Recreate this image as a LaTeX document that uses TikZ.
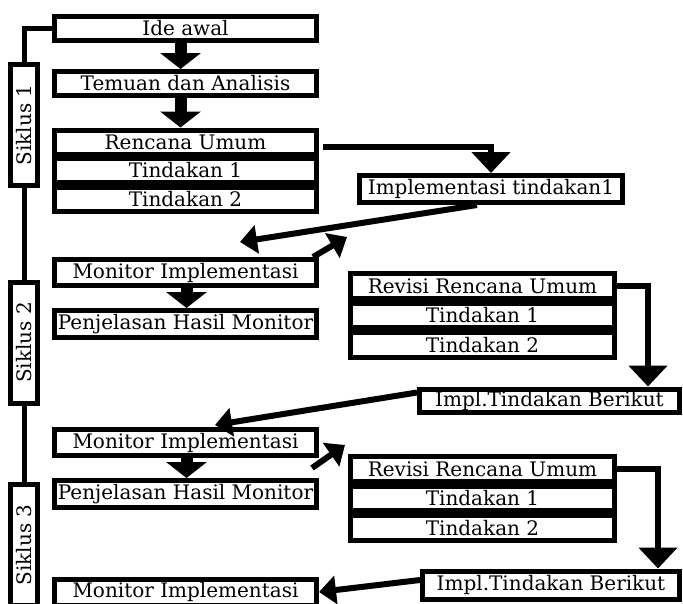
\documentclass[tikz,border=0pt]{standalone}
\usepackage{fontspec}
\setmainfont{DejaVu Serif}
\usetikzlibrary{arrows.meta,positioning,calc}
\tikzset{
  box/.style   ={draw=black,fill=white,line width=5pt,inner sep=0pt,align=center,
                 minimum width=262pt,minimum height=24pt},
  rbox/.style  ={box,minimum width=264pt,minimum height=24.5pt},
  siklus/.style={draw=black,fill=white,line width=5pt,inner sep=0pt,rotate=90,
                 minimum width=121pt,minimum height=27pt},
  wire/.style  ={draw=black,line width=5pt},
  flow/.style  ={-{Triangle[length=16pt,width=40pt]},draw=black,line width=12pt},
  elbow/.style ={-{Triangle[length=21pt,width=38pt]},draw=black,line width=6pt},
  link/.style  ={-{Triangle[length=17pt,width=28pt]},draw=black,line width=6pt},
}

\begin{document}
\begin{tikzpicture}[x=1pt,y=-1pt,font=\fontsize{20}{22}\selectfont]
\clip (0,0) rectangle (683,603);

% siklus column
\node[siklus] (s1) at (24,125) {Siklus 1};
\node[siklus] (s2) at (24,342.5) {Siklus 2};
\node[siklus] (s3) at (24,545) {Siklus 3};

% siklus 1
\node[box] (ide) at (185.5,28.5) {Ide awal};
\node[box] (temuan) at (185.5,83.5) {Temuan dan Analisis};
\node[box] (rencana) at (185.5,142) {Rencana Umum};
\node[box] (rtin1) at (185.5,170.5) {Tindakan 1};
\node[box] (rtin2) at (185.5,199) {Tindakan 2};
\node[box,minimum width=263pt,minimum height=27pt] (impl1) at (491,189) {Implementasi tindakan1};

% siklus 2
\node[box,minimum height=26pt] (mon1) at (185.5,272.5) {Monitor Implementasi};
\node[box,minimum height=27pt] (pen1) at (185.5,324) {Penjelasan Hasil Monitor};
\node[rbox] (rev1) at (482.5,286) {Revisi Rencana Umum};
\node[rbox] (rev1t1) at (482.5,315.5) {Tindakan 1};
\node[rbox] (rev1t2) at (482.5,345) {Tindakan 2};
\node[box,minimum width=260pt,minimum height=23pt] (implb1) at (549.5,400.5) {Impl.Tindakan Berikut};

% siklus 3
\node[box,minimum height=26pt] (mon2) at (185.5,442.5) {Monitor Implementasi};
\node[box,minimum height=27pt] (pen2) at (185.5,494) {Penjelasan Hasil Monitor};
\node[rbox] (rev2) at (482.5,469) {Revisi Rencana Umum};
\node[rbox] (rev2t1) at (482.5,498.5) {Tindakan 1};
\node[rbox] (rev2t2) at (482.5,528) {Tindakan 2};
\node[box,minimum width=257pt,minimum height=28pt] (implb2) at (551,585) {Impl.Tindakan Berikut};
\node[box,minimum height=26pt] (mon3) at (185.5,592) {Monitor Implementasi};

\coordinate (m1top) at (240,242);
\coordinate (i1low) at (347,237);
\coordinate (m2top) at (215,425);
\coordinate (r2low) at (345,445);

% connectors
\draw[wire] (s1.east) |- (ide.west);
\draw[wire] (s1.west) -- (s2.east);
\draw[wire] (s2.west) -- (s3.east);

\draw[flow] ([xshift=-5pt]ide.south) -- ([xshift=-5pt]temuan.north);
\draw[flow] ([xshift=-5pt]temuan.south) -- ([xshift=-5pt]rencana.north);
\draw[elbow] ([xshift=4pt,yshift=-5pt]rencana.east) -| (impl1.north);
\draw[link] ([xshift=-14pt]impl1.south) -- (m1top);
\draw[link] ([xshift=-6pt]mon1.north east) -- (i1low);
\draw[flow] ([xshift=1pt]mon1.south) -- ([xshift=1pt]pen1.north);

\draw[elbow] ([xshift=-5pt]rev1.east) -| ([xshift=-34pt]implb1.north east);
\draw[link] ([yshift=8pt]implb1.west) -- (m2top);
\draw[flow] ([xshift=1pt]mon2.south) -- ([xshift=1pt]pen2.north);
\draw[link] ([xshift=-7pt,yshift=-10pt]mon2.south east) -- (r2low);

\draw[elbow] (rev2.east) -| ([xshift=-24pt]implb2.north east);
\draw[link] ([yshift=5pt]implb2.west) -- (mon3.east);
\end{tikzpicture}
\end{document}
